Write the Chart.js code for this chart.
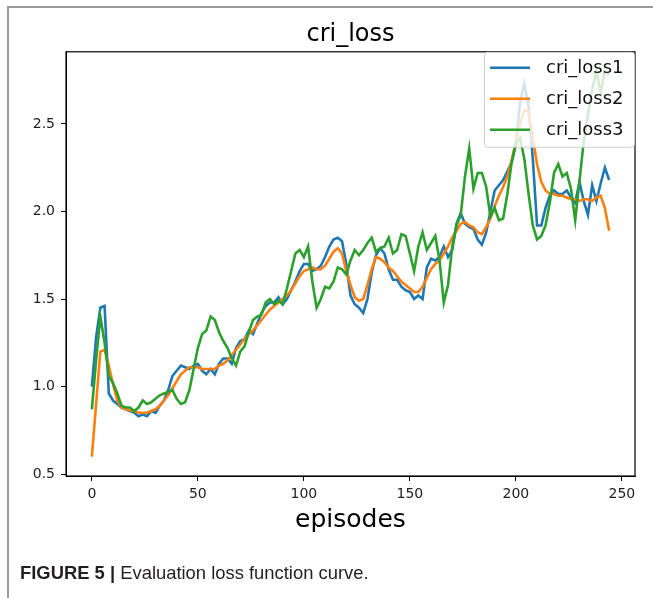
<!DOCTYPE html>
<html>
<head>
<meta charset="utf-8">
<script src="https://cdn.jsdelivr.net/npm/chart.js@4.4.0/dist/chart.umd.min.js"></script>
<style>
  html, body { margin: 0; padding: 0; background: #fff; }
  #wrap { position: relative; width: 653px; height: 598px; overflow: hidden; }
  #frame {
    position: absolute; left: 7px; top: 6px; right: 0; bottom: 0;
    border-left: 2px solid #9a9a9a; border-top: 2px solid #9a9a9a;
  }
  #chart { position: absolute; left: 0; top: 0; }
  #caption {
    position: absolute; left: 20px; top: 562px;
    font: 18.4px "Liberation Sans", Arial, sans-serif; color: #231f20; white-space: nowrap;
  }
</style>
</head>
<body>
<div id="wrap">
  <div id="frame"></div>
  <canvas id="chart" width="653" height="598"></canvas>
  <div id="caption"><b>FIGURE 5 |</b> Evaluation loss function curve.</div>
</div>
<script>
"use strict";

// episodes 0..244, read every 2nd episode off the figure
const episodes = Array.from({ length: 123 }, (_, i) => i * 2);

const criLoss1 = [
  1.00, 1.28, 1.45, 1.46, 0.96, 0.92, 0.90, 0.88, 0.87, 0.86,
  0.85, 0.83, 0.84, 0.83, 0.86, 0.85, 0.89, 0.92, 0.98, 1.06,
  1.09, 1.12, 1.11, 1.10, 1.12, 1.13, 1.09, 1.07, 1.10, 1.07,
  1.13, 1.16, 1.16, 1.13, 1.22, 1.26, 1.27, 1.32, 1.30, 1.36,
  1.42, 1.46, 1.48, 1.48, 1.51, 1.47, 1.50, 1.55, 1.60, 1.66,
  1.70, 1.70, 1.66, 1.67, 1.69, 1.74, 1.80, 1.84, 1.85, 1.83,
  1.70, 1.52, 1.47, 1.45, 1.42, 1.50, 1.65, 1.75, 1.79, 1.76,
  1.67, 1.61, 1.61, 1.57, 1.55, 1.54, 1.50, 1.52, 1.50, 1.68,
  1.73, 1.72, 1.74, 1.80, 1.74, 1.78, 1.93, 1.99, 1.93, 1.91,
  1.90, 1.84, 1.81, 1.88, 2.00, 2.12, 2.15, 2.18, 2.23, 2.28,
  2.38, 2.62, 2.73, 2.60, 2.30, 1.92, 1.92, 2.02, 2.09, 2.12,
  2.10, 2.10, 2.12, 2.08, 2.05, 2.17, 2.06, 1.98, 2.15, 2.06,
  2.16, 2.25, 2.18,
];

const criLoss2 = [
  0.60, 0.90, 1.20, 1.21, 1.12, 1.01, 0.92, 0.88, 0.87, 0.865,
  0.86, 0.85, 0.85, 0.85, 0.86, 0.87, 0.89, 0.92, 0.95, 0.99,
  1.03, 1.07, 1.09, 1.11, 1.11, 1.11, 1.10, 1.10, 1.10, 1.10,
  1.12, 1.13, 1.15, 1.18, 1.21, 1.24, 1.27, 1.30, 1.32, 1.35,
  1.38, 1.41, 1.44, 1.46, 1.48, 1.50, 1.52, 1.55, 1.59, 1.63,
  1.66, 1.67, 1.68, 1.67, 1.67, 1.69, 1.73, 1.77, 1.79, 1.76,
  1.66, 1.58, 1.51, 1.49, 1.50, 1.58, 1.67, 1.74, 1.73, 1.71,
  1.68, 1.66, 1.63, 1.60, 1.58, 1.56, 1.54, 1.54, 1.57, 1.62,
  1.67, 1.70, 1.72, 1.76, 1.80, 1.85, 1.89, 1.93, 1.94, 1.92,
  1.91, 1.88, 1.87, 1.91, 1.96, 2.03, 2.09, 2.14, 2.20, 2.29,
  2.40, 2.50, 2.58, 2.57, 2.42, 2.27, 2.17, 2.12, 2.10, 2.10,
  2.09, 2.09, 2.08, 2.07, 2.07, 2.06, 2.07, 2.07, 2.06, 2.08,
  2.09, 2.02, 1.89,
];

const criLoss3 = [
  0.87, 1.15, 1.40, 1.25, 1.06, 1.02, 0.96, 0.89, 0.88, 0.88,
  0.86, 0.88, 0.92, 0.90, 0.91, 0.93, 0.95, 0.96, 0.97, 0.98,
  0.93, 0.90, 0.91, 0.98, 1.10, 1.22, 1.30, 1.32, 1.40, 1.38,
  1.31, 1.26, 1.22, 1.16, 1.12, 1.20, 1.23, 1.31, 1.38, 1.40,
  1.41, 1.48, 1.50, 1.47, 1.49, 1.47, 1.56, 1.66, 1.76, 1.78,
  1.74, 1.80, 1.60, 1.45, 1.50, 1.57, 1.56, 1.60, 1.68, 1.67,
  1.64, 1.72, 1.78, 1.75, 1.78, 1.82, 1.85, 1.77, 1.79, 1.80,
  1.85, 1.76, 1.78, 1.87, 1.86, 1.76, 1.66, 1.80, 1.88, 1.78,
  1.82, 1.86, 1.72, 1.48, 1.58, 1.80, 1.92, 1.98, 2.20, 2.36,
  2.13, 2.22, 2.22, 2.14, 1.97, 2.02, 1.95, 1.96, 2.10, 2.28,
  2.39, 2.42, 2.30, 2.10, 1.92, 1.84, 1.86, 1.92, 2.05, 2.22,
  2.27, 2.20, 2.22, 2.13, 1.95, 2.17, 2.40, 2.55, 2.70, 2.80,
  2.68, 2.80, 2.78,
];

const seriesNames = ["cri_loss1", "cri_loss2", "cri_loss3"];
const seriesColors = ["#1f77b4", "#ff7f0e", "#2ca02c"];
const xTicks = [0, 50, 100, 150, 200, 250];
const yTicks = [0.5, 1.0, 1.5, 2.0, 2.5];

function toPoints(values) {
  return values.map((v, i) => ({ x: episodes[i], y: v }));
}

// box round the axes plus a matplotlib-style legend on top of the lines
const frameAndLegend = {
  id: "frameAndLegend",
  afterDatasetsDraw(chart) {
    const { ctx, chartArea: a } = chart;
    ctx.save();
    ctx.strokeStyle = "#000";
    ctx.lineWidth = 1.2;
    ctx.strokeRect(a.left, a.top, a.right - a.left, a.bottom - a.top);

    const w = 151, h = 96;
    const x0 = a.right - w, y0 = a.top;
    ctx.fillStyle = "rgba(255,255,255,0.8)";
    ctx.strokeStyle = "rgba(204,204,204,0.9)";
    ctx.lineWidth = 1;
    ctx.beginPath();
    if (ctx.roundRect) ctx.roundRect(x0 + 0.5, y0 + 0.5, w - 1, h - 1, 3);
    else ctx.rect(x0 + 0.5, y0 + 0.5, w - 1, h - 1);
    ctx.fill();
    ctx.stroke();

    ctx.font = "18px 'DejaVu Sans'";
    ctx.textBaseline = "middle";
    ctx.textAlign = "left";
    chart.data.datasets.forEach((ds, i) => {
      const y = y0 + 16 + i * 31;
      ctx.strokeStyle = ds.borderColor;
      ctx.lineWidth = 2.6;
      ctx.beginPath();
      ctx.moveTo(x0 + 6, y);
      ctx.lineTo(x0 + 46, y);
      ctx.stroke();
      ctx.fillStyle = "#111";
      ctx.fillText(ds.label, x0 + 62, y + 1);
    });
    ctx.restore();
  },
};

Chart.defaults.font.family = "'DejaVu Sans', sans-serif";
Chart.defaults.color = "#222";

const allSeries = [criLoss1, criLoss2, criLoss3];

new Chart(document.getElementById("chart"), {
  type: "line",
  data: {
    datasets: allSeries.map((vals, i) => ({
      label: seriesNames[i],
      data: toPoints(vals),
      borderColor: seriesColors[i],
      borderWidth: 2.6,
      pointRadius: 0,
      fill: false,
      tension: 0,
      order: 3 - i,
    })),
  },
  options: {
    responsive: false,
    animation: false,
    layout: { padding: { left: 0, top: 0, right: 18, bottom: 0 } },
    plugins: {
      legend: { display: false },
      tooltip: { enabled: false },
      title: {
        display: true,
        text: "cri_loss",
        fullSize: false,
        color: "#000",
        font: { size: 24, weight: "normal" },
        padding: { top: 20, bottom: 3 },
      },
    },
    scales: {
      x: {
        type: "linear",
        min: -12.2,
        max: 256.2,
        afterBuildTicks: (axis) => {
          axis.ticks = xTicks.map((v) => ({ value: v }));
        },
        afterFit: (scale) => {
          scale.height = 122;
        },
        ticks: {
          padding: 5,
          font: { size: 14 },
          color: "#222",
          callback: (v) => String(v),
        },
        grid: {
          display: true,
          drawOnChartArea: false,
          drawTicks: true,
          tickLength: 5,
          color: "#000",
        },
        border: { display: true, color: "#000", width: 1 },
        title: {
          display: true,
          text: "episodes",
          color: "#000",
          font: { size: 25 },
          padding: { top: 0, bottom: 63 },
        },
      },
      y: {
        type: "linear",
        min: 0.489,
        max: 2.912,
        afterBuildTicks: (axis) => {
          axis.ticks = yTicks.map((v) => ({ value: v }));
        },
        afterFit: (scale) => {
          scale.width = 66;
        },
        ticks: {
          padding: 6,
          font: { size: 14 },
          color: "#222",
          callback: (v) => v.toFixed(1),
        },
        grid: {
          display: true,
          drawOnChartArea: false,
          drawTicks: true,
          tickLength: 5,
          color: "#000",
        },
        border: { display: true, color: "#000", width: 1 },
      },
    },
  },
  plugins: [frameAndLegend],
});
</script>
</body>
</html>
